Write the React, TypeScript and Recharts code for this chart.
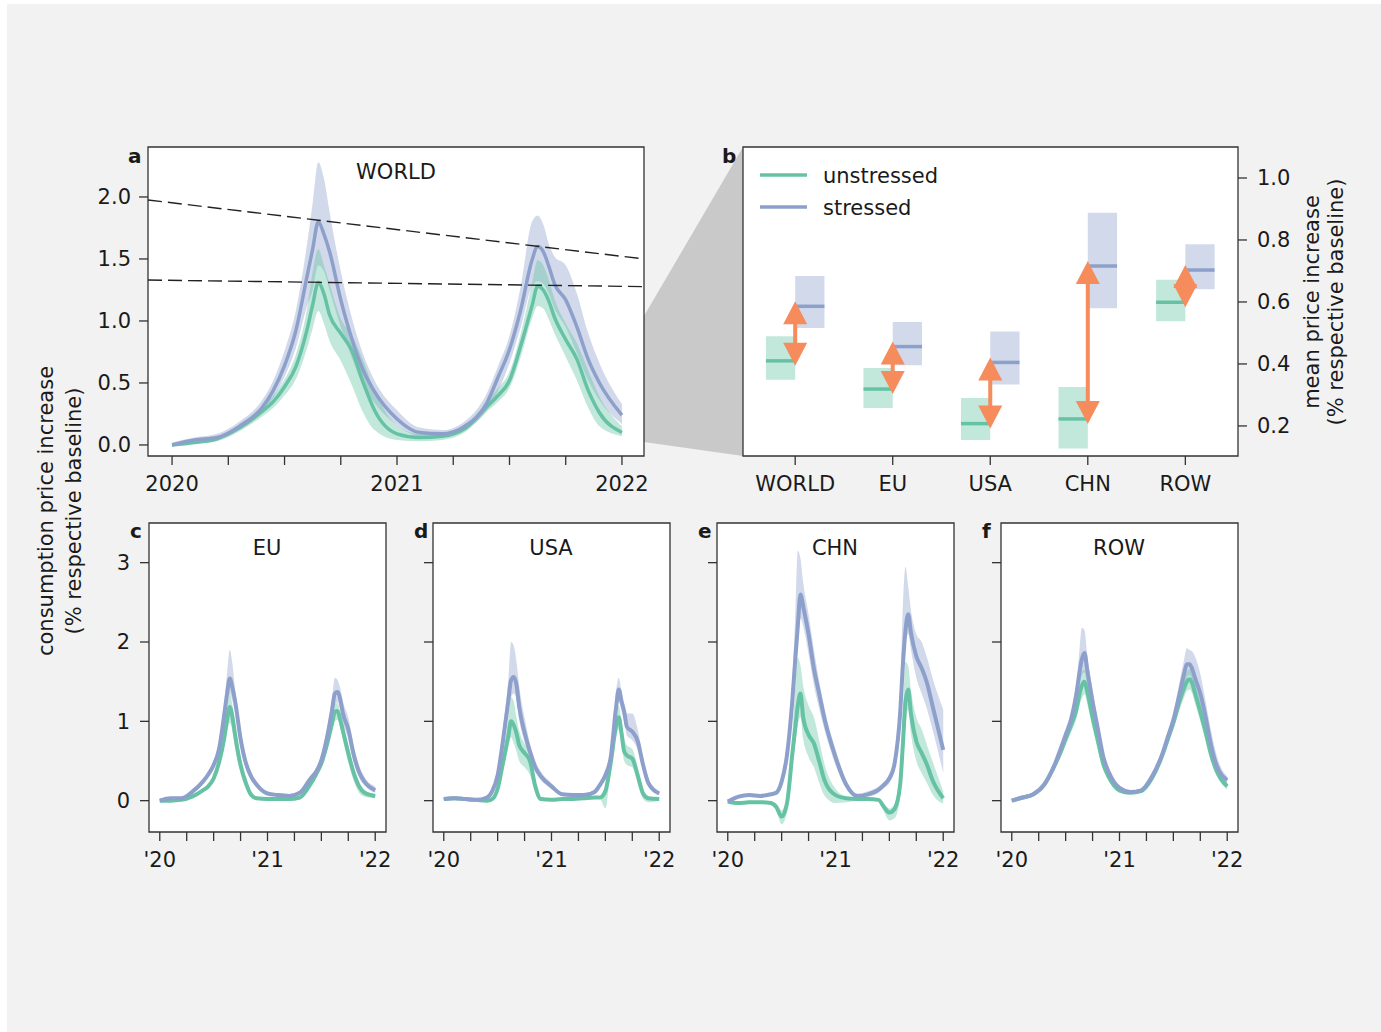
import React from "react";
import {
  ComposedChart,
  Area,
  Line,
  XAxis,
  YAxis,
  CartesianGrid,
  ReferenceArea,
  ReferenceLine,
} from "recharts";

// time axis, in years since 2020
const T = [0, 0.1, 0.2, 0.3, 0.4, 0.45, 0.5, 0.55, 0.6, 0.625, 0.65, 0.675, 0.7, 0.75, 0.8, 0.85, 0.9, 1.0, 1.1, 1.2, 1.3, 1.4, 1.45, 1.5, 1.55, 1.6, 1.625, 1.65, 1.675, 1.7, 1.75, 1.8, 1.85, 1.9, 2.0];

// WORLD
const WORLD_S = [0.0, 0.04, 0.06, 0.15, 0.3, 0.44, 0.64, 0.92, 1.36, 1.58, 1.8, 1.7, 1.56, 1.17, 0.85, 0.6, 0.43, 0.21, 0.1, 0.09, 0.15, 0.34, 0.55, 0.77, 1.09, 1.49, 1.6, 1.56, 1.44, 1.3, 1.17, 0.95, 0.69, 0.5, 0.24];
const WORLD_S_LO = [-0.01, 0.02, 0.04, 0.12, 0.26, 0.38, 0.55, 0.78, 1.12, 1.25, 1.45, 1.4, 1.25, 0.95, 0.7, 0.48, 0.34, 0.16, 0.07, 0.06, 0.12, 0.28, 0.44, 0.66, 0.95, 1.28, 1.32, 1.3, 1.22, 1.1, 0.95, 0.74, 0.52, 0.36, 0.17];
const WORLD_S_HI = [0.02, 0.06, 0.09, 0.19, 0.36, 0.52, 0.76, 1.08, 1.62, 1.95, 2.28, 2.15, 1.88, 1.4, 1.02, 0.73, 0.52, 0.28, 0.14, 0.12, 0.19, 0.42, 0.64, 0.88, 1.28, 1.8, 1.85, 1.78, 1.62, 1.52, 1.45, 1.22, 0.9, 0.66, 0.33];
const WORLD_U = [0.0, 0.02, 0.05, 0.14, 0.27, 0.35, 0.47, 0.63, 0.93, 1.13, 1.31, 1.22, 1.05, 0.9, 0.76, 0.5, 0.28, 0.09, 0.06, 0.07, 0.13, 0.31, 0.4, 0.52, 0.8, 1.12, 1.28, 1.25, 1.16, 1.03, 0.85, 0.69, 0.44, 0.26, 0.1];
const WORLD_U_LO = [-0.01, 0.01, 0.03, 0.11, 0.23, 0.3, 0.4, 0.53, 0.78, 0.94, 1.08, 0.98, 0.84, 0.68, 0.48, 0.26, 0.12, 0.04, 0.03, 0.04, 0.1, 0.27, 0.35, 0.46, 0.71, 1.02, 1.12, 1.1, 1.01, 0.9, 0.71, 0.52, 0.3, 0.15, 0.07];
const WORLD_U_HI = [0.01, 0.04, 0.07, 0.17, 0.31, 0.4, 0.53, 0.73, 1.1, 1.4, 1.58, 1.45, 1.3, 1.02, 0.88, 0.68, 0.44, 0.16, 0.09, 0.1, 0.16, 0.35, 0.46, 0.59, 0.9, 1.3, 1.49, 1.45, 1.33, 1.18, 0.98, 0.82, 0.6, 0.39, 0.15];

// EU
const EU_S = [0.0, 0.03, 0.03, 0.11, 0.24, 0.33, 0.45, 0.65, 1.1, 1.35, 1.54, 1.42, 1.25, 0.78, 0.47, 0.3, 0.2, 0.09, 0.07, 0.06, 0.1, 0.28, 0.36, 0.51, 0.78, 1.15, 1.35, 1.37, 1.28, 1.1, 0.9, 0.58, 0.36, 0.24, 0.13];
const EU_S_LO = [-0.01, 0.01, 0.01, 0.09, 0.21, 0.29, 0.4, 0.58, 0.98, 1.2, 1.35, 1.25, 1.1, 0.68, 0.4, 0.25, 0.16, 0.07, 0.05, 0.04, 0.08, 0.25, 0.32, 0.46, 0.7, 1.02, 1.2, 1.24, 1.15, 0.98, 0.78, 0.48, 0.29, 0.19, 0.1];
const EU_S_HI = [0.02, 0.05, 0.05, 0.13, 0.27, 0.37, 0.5, 0.73, 1.25, 1.62, 1.9, 1.72, 1.4, 0.9, 0.55, 0.35, 0.24, 0.11, 0.09, 0.08, 0.13, 0.32, 0.41, 0.58, 0.88, 1.3, 1.55, 1.52, 1.42, 1.25, 1.05, 0.7, 0.45, 0.3, 0.18];
const EU_U = [0.0, 0.0, 0.01, 0.05, 0.13, 0.18, 0.28, 0.48, 0.8, 1.02, 1.18, 1.05, 0.82, 0.45, 0.22, 0.07, 0.03, 0.02, 0.02, 0.02, 0.04, 0.21, 0.33, 0.47, 0.7, 0.98, 1.12, 1.13, 1.02, 0.88, 0.6, 0.35, 0.18, 0.1, 0.06];
const EU_U_LO = [-0.01, -0.01, 0.0, 0.03, 0.11, 0.15, 0.24, 0.42, 0.7, 0.88, 0.98, 0.88, 0.66, 0.35, 0.15, 0.04, 0.01, 0.01, 0.01, 0.01, 0.02, 0.18, 0.29, 0.42, 0.62, 0.88, 1.0, 1.02, 0.92, 0.76, 0.48, 0.25, 0.1, 0.05, 0.03];
const EU_U_HI = [0.01, 0.01, 0.02, 0.07, 0.15, 0.21, 0.32, 0.55, 0.92, 1.18, 1.35, 1.2, 0.95, 0.55, 0.28, 0.1, 0.05, 0.03, 0.03, 0.03, 0.06, 0.24, 0.37, 0.52, 0.78, 1.08, 1.22, 1.23, 1.12, 0.98, 0.7, 0.42, 0.24, 0.14, 0.08];

// USA
const USA_S = [0.02, 0.03, 0.02, 0.01, 0.04, 0.12, 0.32, 0.76, 1.27, 1.52, 1.56, 1.46, 1.18, 0.86, 0.62, 0.42, 0.31, 0.18, 0.08, 0.07, 0.07, 0.11, 0.2, 0.32, 0.55, 1.18, 1.4, 1.25, 1.12, 0.93, 0.87, 0.75, 0.45, 0.22, 0.09];
const USA_S_LO = [0.01, 0.02, 0.01, -0.01, 0.02, 0.09, 0.26, 0.65, 1.1, 1.3, 1.35, 1.28, 1.02, 0.74, 0.54, 0.36, 0.26, 0.15, 0.06, 0.05, 0.05, 0.08, 0.16, 0.27, 0.48, 1.0, 1.25, 1.12, 1.0, 0.82, 0.76, 0.64, 0.38, 0.18, 0.07];
const USA_S_HI = [0.03, 0.04, 0.03, 0.03, 0.06, 0.15, 0.38, 0.9, 1.55, 2.0, 1.95, 1.75, 1.45, 1.05, 0.72, 0.5, 0.37, 0.22, 0.1, 0.09, 0.09, 0.14, 0.24, 0.38, 0.65, 1.4, 1.55, 1.38, 1.22, 1.1, 1.1, 0.9, 0.55, 0.28, 0.11];
const USA_U = [0.02, 0.03, 0.02, 0.01, 0.0, 0.02, 0.15, 0.48, 0.82, 1.0, 0.95, 0.85, 0.7, 0.6, 0.5, 0.18, 0.02, 0.01, 0.02, 0.02, 0.03, 0.04, 0.04, 0.12, 0.48, 0.95, 1.05, 0.85, 0.62, 0.57, 0.53, 0.32, 0.09, 0.03, 0.02];
const USA_U_LO = [0.01, 0.02, 0.01, 0.0, -0.02, 0.0, 0.1, 0.38, 0.68, 0.8, 0.72, 0.62, 0.5, 0.42, 0.32, 0.1, 0.0, 0.0, 0.01, 0.01, 0.02, 0.02, 0.02, -0.1, 0.4, 0.8, 0.9, 0.7, 0.5, 0.45, 0.42, 0.22, 0.02, -0.02, 0.0];
const USA_U_HI = [0.03, 0.04, 0.03, 0.02, 0.02, 0.04, 0.2, 0.58, 1.05, 1.3, 1.25, 1.05, 0.88, 0.72, 0.6, 0.25, 0.04, 0.02, 0.03, 0.03, 0.04, 0.05, 0.06, 0.18, 0.58, 1.1, 1.2, 1.0, 0.78, 0.7, 0.65, 0.42, 0.14, 0.05, 0.03];

// CHN
const CHN_S = [-0.01, 0.05, 0.07, 0.06, 0.08, 0.1, 0.24, 0.58, 1.28, 1.75, 2.2, 2.6, 2.45, 2.1, 1.66, 1.34, 1.02, 0.55, 0.2, 0.06, 0.08, 0.14, 0.2, 0.28, 0.48, 1.1, 1.7, 2.15, 2.35, 2.12, 1.82, 1.67, 1.48, 1.2, 0.64];
const CHN_S_LO = [-0.03, 0.03, 0.05, 0.04, 0.06, 0.07, 0.18, 0.45, 1.05, 1.5, 1.95, 2.3, 2.2, 1.85, 1.45, 1.15, 0.88, 0.45, 0.15, 0.04, 0.05, 0.1, 0.16, 0.22, 0.4, 0.9, 1.45, 1.95, 2.1, 1.9, 1.55, 1.35, 1.15, 0.9, 0.35];
const CHN_S_HI = [0.01, 0.07, 0.09, 0.08, 0.1, 0.13, 0.3, 0.7, 1.55, 2.3, 3.15, 3.05, 2.75, 2.35, 1.9, 1.5, 1.15, 0.65, 0.26, 0.09, 0.12, 0.18, 0.24, 0.34, 0.58, 1.4, 2.45, 2.95, 2.7, 2.4, 2.1, 2.0, 1.8, 1.55, 1.15];
const CHN_U = [-0.01, -0.03, -0.02, -0.02, -0.03, -0.08, -0.2, -0.03, 0.6, 0.9, 1.2, 1.35, 1.05, 0.83, 0.72, 0.49, 0.25, 0.07, 0.03, 0.02, 0.02, 0.01, -0.08, -0.15, -0.1, 0.2, 0.7, 1.25, 1.4, 1.1, 0.75, 0.6, 0.45, 0.26, 0.03];
const CHN_U_LO = [-0.03, -0.05, -0.04, -0.04, -0.05, -0.12, -0.3, -0.15, 0.4, 0.7, 0.95, 1.05, 0.78, 0.55, 0.42, 0.22, 0.06, -0.03, -0.02, 0.0, 0.0, -0.01, -0.14, -0.25, -0.22, 0.05, 0.45, 0.95, 1.15, 0.85, 0.5, 0.35, 0.22, 0.08, -0.04];
const CHN_U_HI = [0.01, -0.01, 0.0, 0.0, -0.01, -0.04, -0.12, 0.05, 0.85, 1.4, 1.8, 1.7, 1.45, 1.2, 1.05, 0.75, 0.45, 0.15, 0.05, 0.03, 0.03, 0.02, -0.04, -0.1, -0.04, 0.35, 1.1, 1.75, 1.7, 1.4, 1.05, 0.9, 0.7, 0.5, 0.12];

// ROW
const ROW_S = [0.0, 0.04, 0.08, 0.2, 0.46, 0.64, 0.83, 1.02, 1.35, 1.58, 1.78, 1.86, 1.65, 1.25, 0.9, 0.55, 0.36, 0.16, 0.11, 0.13, 0.3, 0.6, 0.81, 1.02, 1.3, 1.6, 1.72, 1.72, 1.66, 1.55, 1.35, 1.05, 0.7, 0.45, 0.26];
const ROW_S_LO = [-0.01, 0.03, 0.07, 0.17, 0.4, 0.57, 0.74, 0.92, 1.22, 1.42, 1.58, 1.62, 1.45, 1.1, 0.78, 0.46, 0.3, 0.13, 0.09, 0.11, 0.26, 0.54, 0.74, 0.94, 1.18, 1.45, 1.55, 1.58, 1.52, 1.4, 1.18, 0.92, 0.6, 0.38, 0.22];
const ROW_S_HI = [0.01, 0.05, 0.09, 0.23, 0.5, 0.69, 0.9, 1.12, 1.5, 1.85, 2.18, 2.15, 1.85, 1.4, 1.0, 0.62, 0.4, 0.19, 0.13, 0.15, 0.32, 0.64, 0.86, 1.1, 1.45, 1.78, 1.92, 1.9, 1.88, 1.82, 1.6, 1.25, 0.88, 0.58, 0.3];
const ROW_U = [0.0, 0.04, 0.08, 0.2, 0.45, 0.6, 0.78, 0.95, 1.15, 1.32, 1.45, 1.5, 1.38, 1.05, 0.75, 0.46, 0.3, 0.13, 0.1, 0.12, 0.28, 0.58, 0.78, 0.98, 1.22, 1.42, 1.5, 1.53, 1.48, 1.36, 1.12, 0.86, 0.58, 0.38, 0.18];
const ROW_U_LO = [-0.01, 0.03, 0.07, 0.17, 0.4, 0.54, 0.7, 0.86, 1.03, 1.18, 1.28, 1.34, 1.22, 0.92, 0.64, 0.39, 0.25, 0.1, 0.08, 0.1, 0.25, 0.53, 0.72, 0.91, 1.12, 1.3, 1.38, 1.4, 1.35, 1.23, 1.0, 0.76, 0.5, 0.32, 0.14];
const ROW_U_HI = [0.01, 0.05, 0.09, 0.22, 0.48, 0.64, 0.83, 1.02, 1.25, 1.45, 1.62, 1.65, 1.52, 1.16, 0.84, 0.53, 0.34, 0.15, 0.11, 0.13, 0.3, 0.61, 0.82, 1.03, 1.3, 1.52, 1.62, 1.66, 1.62, 1.5, 1.25, 0.96, 0.66, 0.44, 0.22];

// panel b: mean price increase per region
const REGIONS = ["WORLD", "EU", "USA", "CHN", "ROW"];
const U_MED = [0.41, 0.319, 0.2075, 0.2226, 0.599];
const U_LO = [0.349, 0.258, 0.155, 0.127, 0.538];
const U_HI = [0.489, 0.387, 0.29, 0.326, 0.672];
const S_MED = [0.586, 0.456, 0.405, 0.716, 0.703];
const S_LO = [0.516, 0.396, 0.334, 0.58, 0.641];
const S_HI = [0.684, 0.535, 0.505, 0.888, 0.786];

// dashed guide lines through the WORLD peaks
const DASH_X = [-0.107, 2.098];
const DASH_STRESSED = [1.976, 1.5];
const DASH_UNSTRESSED = [1.33, 1.277];

const YEAR_TICKS = [0, 0.25, 0.5, 0.75, 1, 1.25, 1.5, 1.75, 2];
const WORLD_Y_TICKS = [0, 0.5, 1, 1.5, 2];
const REGION_Y_TICKS = [0, 1, 2, 3];
const B_Y_TICKS = [0.2, 0.4, 0.6, 0.8, 1.0];

const FONT = "'DejaVu Sans', Verdana, sans-serif";
const GREEN = "#66c2a5";
const BLUE = "#8da0cb";
const ORANGE = "#f68b5c";
const INK = "#1a1a1a";
const FRAME = "#333";
const BAND_OPACITY = 0.4;
const BOX_W = 0.3;
const CURVE = "monotone";

const TICK_LINE = { stroke: FRAME, strokeWidth: 1.3 };
const TICK_TEXT = { fill: INK, fontSize: 21, fontFamily: FONT };

function buildRows(u, uLo, uHi, s, sLo, sHi) {
  return T.map((t, i) => ({
    t,
    u: u[i],
    uBand: [uLo[i], uHi[i]],
    s: s[i],
    sBand: [sLo[i], sHi[i]],
  }));
}

const WORLD_ROWS = buildRows(WORLD_U, WORLD_U_LO, WORLD_U_HI, WORLD_S, WORLD_S_LO, WORLD_S_HI);
const REGION_PANELS = [
  { name: "EU", letter: "c", left: 149, rows: buildRows(EU_U, EU_U_LO, EU_U_HI, EU_S, EU_S_LO, EU_S_HI) },
  { name: "USA", letter: "d", left: 433, rows: buildRows(USA_U, USA_U_LO, USA_U_HI, USA_S, USA_S_LO, USA_S_HI) },
  { name: "CHN", letter: "e", left: 717, rows: buildRows(CHN_U, CHN_U_LO, CHN_U_HI, CHN_S, CHN_S_LO, CHN_S_HI) },
  { name: "ROW", letter: "f", left: 1001, rows: buildRows(ROW_U, ROW_U_LO, ROW_U_HI, ROW_S, ROW_S_LO, ROW_S_HI) },
];
const B_ROWS = REGIONS.map((name, i) => ({ x: i, name, u: U_MED[i], s: S_MED[i] }));

const yearLabel = (t) => (Number.isInteger(t) ? String(2020 + t) : "");
const shortYearLabel = (t) => (Number.isInteger(t) ? "'" + (20 + t) : "");

function TimePanel({ rows, left, top, w, h, xDomain, yDomain, yTicks, yFmt, xFmt, yAxisW, lineW, tickMargin, children }: any) {
  const xAxisH = 50;
  return (
    <div style={{ position: "absolute", left: left - yAxisW, top: top - 2 }}>
      <ComposedChart
        width={yAxisW + w + 4}
        height={2 + h + xAxisH}
        data={rows}
        margin={{ top: 2, right: 4, bottom: 0, left: 0 }}
      >
        <CartesianGrid horizontal={false} vertical={false} fill="#fff" fillOpacity={1} />
        <XAxis
          dataKey="t"
          type="number"
          domain={xDomain}
          ticks={YEAR_TICKS}
          interval={0}
          tickFormatter={xFmt}
          height={xAxisH}
          allowDataOverflow
          axisLine={false}
          tickSize={9}
          tickMargin={11}
          tickLine={TICK_LINE}
          tick={TICK_TEXT}
        />
        <YAxis
          type="number"
          domain={yDomain}
          ticks={yTicks}
          interval={0}
          tickFormatter={yFmt}
          width={yAxisW}
          allowDataOverflow
          axisLine={false}
          tickSize={9}
          tickMargin={tickMargin}
          tickLine={TICK_LINE}
          tick={TICK_TEXT}
        />
        <Area type={CURVE} dataKey="sBand" stroke="none" fill={BLUE} fillOpacity={BAND_OPACITY} activeDot={false} isAnimationActive={false} />
        <Area type={CURVE} dataKey="uBand" stroke="none" fill={GREEN} fillOpacity={BAND_OPACITY} activeDot={false} isAnimationActive={false} />
        <Line type={CURVE} dataKey="u" stroke={GREEN} strokeWidth={lineW} strokeLinejoin="round" dot={false} activeDot={false} isAnimationActive={false} />
        <Line type={CURVE} dataKey="s" stroke={BLUE} strokeWidth={lineW} strokeLinejoin="round" dot={false} activeDot={false} isAnimationActive={false} />
        {children}
        <ReferenceArea
          x1={xDomain[0]}
          x2={xDomain[1]}
          y1={yDomain[0]}
          y2={yDomain[1]}
          fill="none"
          stroke={FRAME}
          strokeWidth={1.3}
          ifOverflow="visible"
        />
      </ComposedChart>
    </div>
  );
}

// double-headed arrow between the two medians
function DoubleArrow(props: any) {
  const { x1, y1, y2 } = props;
  const head = 23;
  const half = 12;
  const top = Math.min(y1, y2) - 5;
  const bot = Math.max(y1, y2) + 5;
  return (
    <g fill={ORANGE}>
      {bot - top > 2 * head - 2 && (
        <rect x={x1 - 2} y={top + head - 1} width={4} height={bot - top - 2 * head + 2} />
      )}
      <polygon points={`${x1},${top} ${x1 - half},${top + head} ${x1 + half},${top + head}`} />
      <polygon points={`${x1},${bot} ${x1 - half},${bot - head} ${x1 + half},${bot - head}`} />
    </g>
  );
}

function SummaryPanel() {
  const left = 743;
  const top = 147;
  const w = 495;
  const h = 309;
  const axisW = 60;
  const xDomain = [-0.535, 4.54];
  const yDomain = [0.103, 1.1];
  return (
    <div style={{ position: "absolute", left: left - 4, top: top - 2 }}>
      <ComposedChart width={4 + w + axisW} height={2 + h + 50} data={B_ROWS} margin={{ top: 2, right: 0, bottom: 0, left: 4 }}>
        <CartesianGrid horizontal={false} vertical={false} fill="#fff" fillOpacity={1} />
        <XAxis
          dataKey="x"
          type="number"
          domain={xDomain}
          ticks={[0, 1, 2, 3, 4]}
          interval={0}
          tickFormatter={(i) => REGIONS[i]}
          height={50}
          allowDataOverflow
          axisLine={false}
          tickSize={9}
          tickMargin={11}
          tickLine={TICK_LINE}
          tick={TICK_TEXT}
        />
        <YAxis
          orientation="right"
          type="number"
          domain={yDomain}
          ticks={B_Y_TICKS}
          interval={0}
          tickFormatter={(v) => v.toFixed(1)}
          width={axisW}
          allowDataOverflow
          axisLine={false}
          tickSize={9}
          tickMargin={10}
          tickLine={TICK_LINE}
          tick={TICK_TEXT}
        />
        {REGIONS.map((r, i) => (
          <ReferenceArea key={"ub" + r} x1={i - BOX_W} x2={i} y1={U_LO[i]} y2={U_HI[i]} fill={GREEN} fillOpacity={BAND_OPACITY} stroke="none" />
        ))}
        {REGIONS.map((r, i) => (
          <ReferenceArea key={"sb" + r} x1={i} x2={i + BOX_W} y1={S_LO[i]} y2={S_HI[i]} fill={BLUE} fillOpacity={BAND_OPACITY} stroke="none" />
        ))}
        {REGIONS.map((r, i) => (
          <ReferenceLine
            key={"um" + r}
            segment={[{ x: i - BOX_W, y: U_MED[i] }, { x: i, y: U_MED[i] }]}
            stroke={GREEN}
            strokeWidth={3.5}
          />
        ))}
        {REGIONS.map((r, i) => (
          <ReferenceLine
            key={"sm" + r}
            segment={[{ x: i, y: S_MED[i] }, { x: i + BOX_W, y: S_MED[i] }]}
            stroke={BLUE}
            strokeWidth={3.5}
          />
        ))}
        {REGIONS.map((r, i) => (
          <ReferenceLine
            key={"ar" + r}
            segment={[{ x: i, y: U_MED[i] }, { x: i, y: S_MED[i] }]}
            stroke={ORANGE}
            shape={DoubleArrow}
          />
        ))}
        <ReferenceArea
          x1={xDomain[0]}
          x2={xDomain[1]}
          y1={yDomain[0]}
          y2={yDomain[1]}
          fill="none"
          stroke={FRAME}
          strokeWidth={1.3}
          ifOverflow="visible"
        />
      </ComposedChart>
    </div>
  );
}

const LEGEND = [
  { label: "unstressed", color: GREEN },
  { label: "stressed", color: BLUE },
];

export default function App() {
  return (
    <div style={{ position: "absolute", left: 0, top: 0, width: 1381, height: 1032, background: "#fff", fontFamily: FONT, overflow: "hidden" }}>
      <div style={{ position: "absolute", left: 7, top: 4, width: 1374, height: 1028, background: "#f2f2f2" }} />
      <svg width={1381} height={1032} style={{ position: "absolute", left: 0, top: 0 }}>
        <polygon points="644,316 743,147 743,456 644,442" fill="#c9c9c9" />
      </svg>

      <TimePanel
        rows={WORLD_ROWS}
        left={148}
        top={147}
        w={496}
        h={309}
        xDomain={[-0.107, 2.098]}
        yDomain={[-0.089, 2.403]}
        yTicks={WORLD_Y_TICKS}
        yFmt={(v) => v.toFixed(1)}
        xFmt={yearLabel}
        yAxisW={70}
        lineW={3.5}
        tickMargin={8}
      >
        <ReferenceLine
          segment={[{ x: DASH_X[0], y: DASH_STRESSED[0] }, { x: DASH_X[1], y: DASH_STRESSED[1] }]}
          stroke="#222"
          strokeWidth={1.4}
          strokeDasharray="14 6"
          ifOverflow="visible"
        />
        <ReferenceLine
          segment={[{ x: DASH_X[0], y: DASH_UNSTRESSED[0] }, { x: DASH_X[1], y: DASH_UNSTRESSED[1] }]}
          stroke="#222"
          strokeWidth={1.4}
          strokeDasharray="14 6"
          ifOverflow="visible"
        />
      </TimePanel>

      <SummaryPanel />

      {REGION_PANELS.map((p, k) => (
        <TimePanel
          key={p.name}
          rows={p.rows}
          left={p.left}
          top={523}
          w={237}
          h={309}
          xDomain={[-0.1, 2.1]}
          yDomain={[-0.395, 3.5]}
          yTicks={REGION_Y_TICKS}
          yFmt={k === 0 ? (v) => String(v) : () => ""}
          xFmt={shortYearLabel}
          yAxisW={50}
          lineW={4}
          tickMargin={10}
        />
      ))}

      <svg width={1381} height={1032} style={{ position: "absolute", left: 0, top: 0, pointerEvents: "none" }} fontFamily={FONT} fill={INK}>
        <text x={128} y={163} fontSize={20} fontWeight="bold">a</text>
        <text x={722} y={163} fontSize={20} fontWeight="bold">b</text>
        {REGION_PANELS.map((p) => (
          <text key={"l" + p.name} x={p.left - 19} y={538} fontSize={20} fontWeight="bold">{p.letter}</text>
        ))}
        <text x={396} y={179} fontSize={21} textAnchor="middle">WORLD</text>
        {REGION_PANELS.map((p) => (
          <text key={"t" + p.name} x={p.left + 118} y={555} fontSize={21} textAnchor="middle">{p.name}</text>
        ))}

        {LEGEND.map((e, i) => (
          <g key={e.label}>
            <line x1={760} x2={807} y1={175 + 32 * i} y2={175 + 32 * i} stroke={e.color} strokeWidth={3.5} />
            <text x={823} y={182.5 + 32 * i} fontSize={21}>{e.label}</text>
          </g>
        ))}

        <text transform="translate(53,511) rotate(-90)" textAnchor="middle" fontSize={21}>consumption price increase</text>
        <text transform="translate(81,511) rotate(-90)" textAnchor="middle" fontSize={21}>(% respective baseline)</text>
        <text transform="translate(1319,302) rotate(-90)" textAnchor="middle" fontSize={21}>mean price increase</text>
        <text transform="translate(1343,302) rotate(-90)" textAnchor="middle" fontSize={21}>(% respective baseline)</text>
      </svg>
    </div>
  );
}
